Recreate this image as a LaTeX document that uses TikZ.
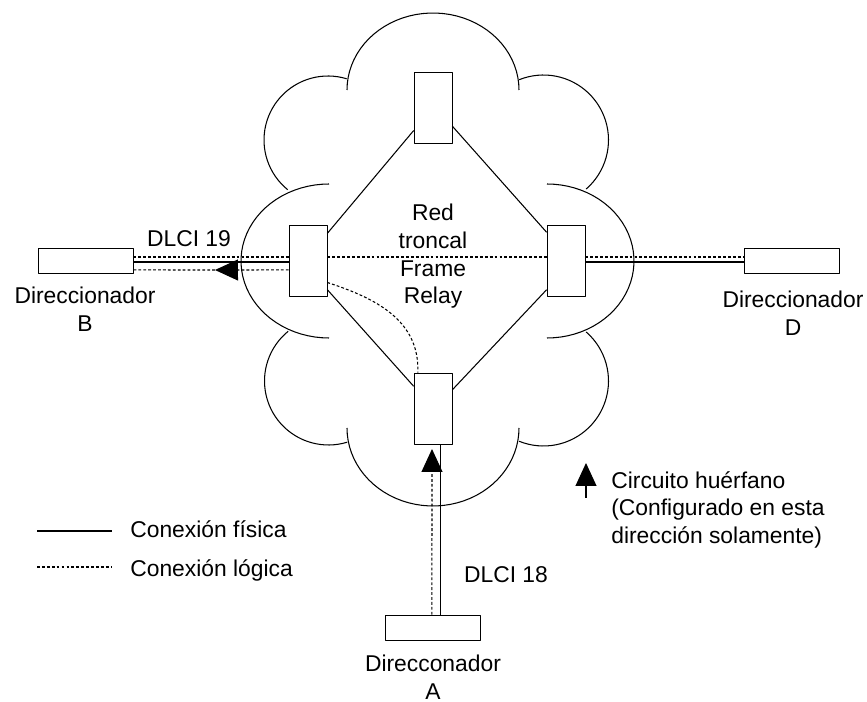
\documentclass[tikz,border=0pt]{standalone}
\usepackage{fontspec}
\setmainfont{Liberation Sans}
\usetikzlibrary{arrows.meta}

\tikzset{
  router/.style={draw, fill=white, inner sep=0pt, minimum width=1.9cm, minimum height=0.5cm},
  switch/.style={draw, fill=white, inner sep=0pt, minimum width=0.76cm, minimum height=1.42cm},
  physical/.style={line width=0.6pt},
  logical/.style={line width=0.6pt, dash pattern=on 1.6pt off 1.2pt},
  orphan/.style={-{Triangle[length=0.46cm,width=0.42cm]}},
  txt/.style={font=\fontsize{13}{15.7}\selectfont, inner sep=0pt, align=center}
}

\begin{document}
\begin{tikzpicture}[x=0.02cm, y=-0.02cm, line join=round]
	\useasboundingbox (0,0) rectangle (867,702);
	% cloud of the backbone, one lobe at a time
	\draw[physical] plot[domain=180:360, samples=40] ({433+86*cos(\x)}, {90+77*sin(\x)});
	\draw[physical] plot[domain=129:287, samples=40] ({328+64*cos(\x)}, {140+64*sin(\x)});
	\draw[physical] plot[domain=90:270, samples=40] ({329+88*cos(\x)}, {261+77*sin(\x)});
	\draw[physical] plot[domain=73:231, samples=40] ({328.5+64*cos(\x)}, {381+64*sin(\x)});
	\draw[physical] plot[domain=0:180, samples=40] ({433+86*cos(\x)}, {428+78*sin(\x)});
	\draw[physical] plot[domain=-49:112, samples=40] ({543.5+65*cos(\x)}, {381+65*sin(\x)});
	\draw[physical] plot[domain=-90:90, samples=40] ({547+87*cos(\x)}, {261+77*sin(\x)});
	\draw[physical] plot[domain=-112:49, samples=40] ({543.5+65*cos(\x)}, {140+65*sin(\x)});

	% switches and routers
	\node[switch] (swT) at (433,107.5) {};
	\node[switch] (swL) at (308,261) {};
	\node[switch] (swR) at (566,261) {};
	\node[switch] (swB) at (433,408.5) {};
	\node[router] (rB) at (85.5,261) {};
	\node[router] (rD) at (791.5,261) {};
	\node[router] (rA) at (433,627.5) {};

	% texts
	\node[txt] (netTxt) [anchor=north] at (433,204) {Red\\troncal\\Frame\\Relay};
	\node[txt] (dlciB) at (189,238.5) {DLCI 19};
	\node[txt] (dlciA) at (506,575) {DLCI 18};
	\node[txt] (nameB) [anchor=north] at (85,287) {Direccionador\\B};
	\node[txt] (nameD) [anchor=north] at (793,291) {Direccionador\\D};
	\node[txt] (nameA) [anchor=north] at (433,655) {Direcconador\\A};
	\node[txt, align=left] (orphanTxt) [anchor=north west] at (611,471)
		{Circuito huérfano\\(Configurado en esta\\dirección solamente)};
	\node[txt] (legPTxt) [anchor=base west] at (130,538) {Conexión física};
	\node[txt] (legLTxt) [anchor=base west] at (130,577) {Conexión lógica};

	% physical links
	\draw[physical] (swT.230) -- (swL.55);
	\draw[physical] (swT.-44) -- (swR.124);
	\draw[physical] (swL.-56) -- (swB.131);
	\draw[physical] (swB.44) -- (swR.-124);
	\draw[physical] ([yshift=-0.57pt]rB.east) -- ([yshift=-0.57pt]swL.west);
	\draw[physical] ([yshift=-0.57pt]swR.east) -- ([yshift=-0.57pt]rD.west);
	\draw[physical] ([xshift=4.5pt]rA.north) -- ([xshift=4.5pt]swB.south);

	% logical links
	\draw[logical] ([yshift=2.27pt]rB.east) -- ([yshift=2.27pt]swL.west);
	\draw[logical] ([yshift=2.27pt]swL.east) -- ([yshift=2.27pt]swR.west);
	\draw[logical] ([yshift=2.27pt]swR.east) -- ([yshift=2.27pt]rD.west);
	\draw[logical] (swL.-48) .. controls (375,298) and (420,320) .. (swB.113);
	\coordinate (tipB) at (215,270);
	\coordinate (tipA) at (432,449);
	\draw[logical, orphan] ([yshift=-5.1pt]swL.west) -- (tipB);
	\draw[logical] (tipB) -- ([yshift=-5.1pt]rB.east);
	\draw[logical, orphan] ([xshift=-0.6pt]rA.north) -- (tipA);

	% legend
	\coordinate (legP) at (37,531);
	\coordinate (legL) at (37,567);
	\coordinate (legO) at (586,498);
	\draw[physical] (legP) -- ++(75,0);
	\draw[logical] (legL) -- ++(75,0);
	\draw[physical, orphan] (legO) -- ++(0,-35);
\end{tikzpicture}
\end{document}
